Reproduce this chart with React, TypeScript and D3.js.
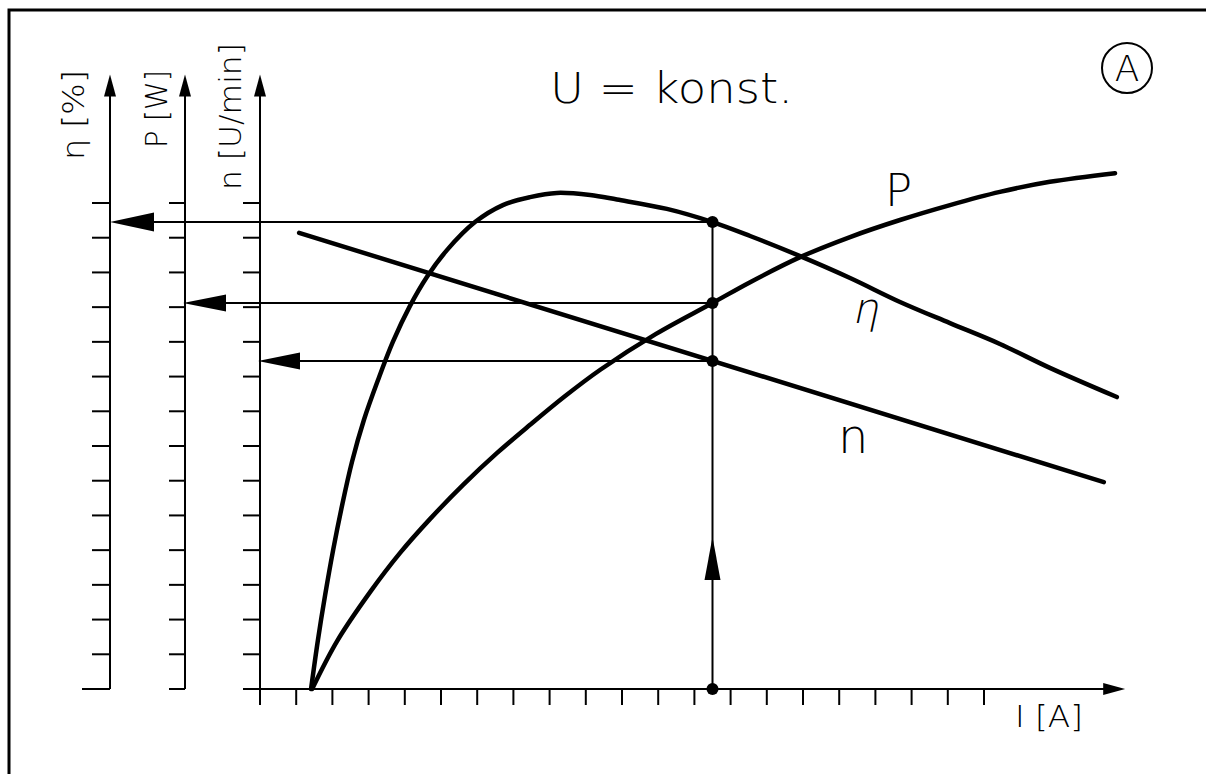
import React from 'react';
import * as d3 from 'd3';

// ---- data ----
const currentTicks = [0, 1, 2, 3, 4, 5, 6, 7, 8, 9, 10, 11, 12, 13, 14, 15, 16, 17, 18, 19, 20];
const valueTicks = [1, 2, 3, 4, 5, 6, 7, 8, 9, 10, 11, 12, 13, 14];

const etaCurrent = [1.41, 1.6, 1.8, 2.02, 2.27, 2.54, 2.87, 3.26, 3.67, 4.14, 4.61, 5.17, 5.94, 6.71, 7.46, 8.2, 9.12, 9.86, 11.24, 12.5, 13.54, 14.92, 16.3, 17.68, 19.06, 20.44, 21.82, 23.67];
const etaValue = [0, 1.41, 2.71, 4.0, 5.3, 6.54, 7.75, 8.9, 10.0, 11.03, 11.87, 12.65, 13.45, 13.94, 14.17, 14.29, 14.23, 14.1, 13.83, 13.45, 13.05, 12.47, 11.84, 11.15, 10.54, 9.94, 9.25, 8.41];

const powerCurrent = [1.44, 2.13, 3.04, 3.87, 4.7, 5.61, 6.55, 7.46, 8.43, 9.39, 10.94, 12.5, 13.54, 14.92, 16.3, 17.68, 19.06, 20.44, 21.82, 23.62];
const powerValue = [0, 1.38, 2.79, 3.92, 4.9, 5.88, 6.8, 7.61, 8.44, 9.19, 10.23, 11.12, 11.72, 12.44, 13.02, 13.51, 13.94, 14.32, 14.61, 14.86];

const speedCurrent = [1.08, 23.31];
const speedValue = [13.14, 5.96];

const operatingCurrent = 12.5;
const currentAxisEnd = 23.9;
const valueAxisEnd = 17.7;

const titleText = 'U = konst.';
const badgeText = 'A';
const axisLabels = ['η [%]', 'P [W]', 'n [U/min]'];
const currentLabel = 'I [A]';
const curveLabels = ['P', 'η', 'n'];

const FONT = '"DejaVu Sans", "Liberation Sans", sans-serif';

function valueAt(xs: number[], ys: number[], x0: number) {
  const i = xs.indexOf(x0);
  if (i >= 0) return ys[i];
  const interp = d3.scaleLinear().domain(xs).range(ys);
  return interp(x0);
}

export default function App() {
  const x = d3.scaleLinear().domain([0, 20]).range([260, 984]);
  const y = d3.scaleLinear().domain([0, 14]).range([689, 203]);

  const axesX = [110, 185, 260];
  const tickLen = [18, 16, 17];

  const toPts = (xs: number[], ys: number[]) => xs.map((v, i) => [v, ys[i]] as [number, number]);
  const curve = d3
    .line<[number, number]>()
    .x((d) => x(d[0]))
    .y((d) => y(d[1]))
    .curve(d3.curveCatmullRom.alpha(0.5));
  const straight = d3
    .line<[number, number]>()
    .x((d) => x(d[0]))
    .y((d) => y(d[1]));

  const etaOp = valueAt(etaCurrent, etaValue, operatingCurrent);
  const pOp = valueAt(powerCurrent, powerValue, operatingCurrent);
  const nOp = valueAt(speedCurrent, speedValue, operatingCurrent);
  const xo = x(operatingCurrent);
  const y0 = y(0);
  const yTop = y(valueAxisEnd);
  const xEnd = x(currentAxisEnd);

  const projections = [
    { v: etaOp, axis: 0, len: 44, half: 9.5 },
    { v: pOp, axis: 1, len: 43, half: 8.5 },
    { v: nOp, axis: 2, len: 42, half: 8.5 },
  ];

  return (
    <div style={{ position: 'absolute', left: 0, top: 0 }}>
      <svg width={1206} height={774} style={{ display: 'block', background: '#fff' }}>
        {/* frame */}
        <rect x={9} y={10} width={1400} height={1000} fill="none" stroke="#000" strokeWidth={3} />

        {/* vertical value axes */}
        {axesX.map((ax, k) => (
          <g key={'ax' + k}>
            <line x1={ax} x2={ax} y1={k === 2 ? y0 + 16 : y0} y2={yTop + 10} stroke="#000" strokeWidth={2} />
            <polygon points={`${ax},${yTop} ${ax - 6},${yTop + 22} ${ax + 6},${yTop + 22}`} fill="#000" />
            {valueTicks.map((t) => (
              <line key={t} x1={ax - tickLen[k]} x2={ax} y1={y(t)} y2={y(t)} stroke="#000" strokeWidth={2} />
            ))}
            <line x1={ax - (k === 0 ? 28 : tickLen[k])} x2={ax} y1={y0} y2={y0} stroke="#000" strokeWidth={2} />
          </g>
        ))}

        {/* current axis */}
        <line x1={axesX[2]} x2={xEnd - 10} y1={y0} y2={y0} stroke="#000" strokeWidth={2} />
        <polygon points={`${xEnd},${y0} ${xEnd - 22},${y0 - 6} ${xEnd - 22},${y0 + 6}`} fill="#000" />
        {currentTicks.slice(1).map((t) => (
          <line key={t} x1={x(t)} x2={x(t)} y1={y0} y2={y0 + 16} stroke="#000" strokeWidth={2} />
        ))}

        {/* axis labels (rotated) */}
        {[
          { tx: 84, ty: 160, len: 90 },
          { tx: 167, ty: 148, len: 78 },
          { tx: 241, ty: 190, len: 147 },
        ].map((p, k) => (
          <text
            key={'al' + k}
            transform={`translate(${p.tx},${p.ty}) rotate(-90)`}
            fontFamily={FONT}
            fontWeight={200}
            fontSize={30}
            textLength={p.len}
            lengthAdjust="spacingAndGlyphs"
          >
            {axisLabels[k]}
          </text>
        ))}

        <text x={1015} y={727} fontFamily={FONT} fontWeight={200} fontSize={30} textLength={68} lengthAdjust="spacingAndGlyphs">
          {currentLabel}
        </text>

        {/* title and badge */}
        <text x={550} y={103} fontFamily={FONT} fontWeight={200} fontSize={42} textLength={243} lengthAdjust="spacingAndGlyphs">
          {titleText}
        </text>
        <circle cx={1127} cy={68} r={25} fill="none" stroke="#000" strokeWidth={2} />
        <text x={1127} y={81} textAnchor="middle" fontFamily={FONT} fontWeight={200} fontSize={36}>
          {badgeText}
        </text>

        {/* projection lines */}
        <line x1={xo} x2={xo} y1={y0} y2={y(etaOp)} stroke="#000" strokeWidth={2} />
        <polygon points={`${xo},${537} ${xo - 8},${580} ${xo + 8},${580}`} fill="#000" />
        {projections.map((p, k) => {
          const py = y(p.v);
          const tip = axesX[p.axis] - (k === 0 ? 0 : 2);
          return (
            <g key={'pr' + k}>
              <line x1={tip + p.len} x2={xo} y1={py} y2={py} stroke="#000" strokeWidth={2} />
              <polygon points={`${tip},${py} ${tip + p.len},${py - p.half} ${tip + p.len},${py + p.half}`} fill="#000" />
            </g>
          );
        })}

        {/* curves */}
        <path d={straight(toPts(speedCurrent, speedValue)) || ''} fill="none" stroke="#000" strokeWidth={4.5} strokeLinecap="round" />
        <path d={curve(toPts(etaCurrent, etaValue)) || ''} fill="none" stroke="#000" strokeWidth={4.5} strokeLinecap="round" strokeLinejoin="round" />
        <path d={curve(toPts(powerCurrent, powerValue)) || ''} fill="none" stroke="#000" strokeWidth={4.5} strokeLinecap="round" strokeLinejoin="round" />

        {/* operating points */}
        {[etaOp, pOp, nOp, 0].map((v, k) => (
          <circle key={'op' + k} cx={xo} cy={y(v)} r={6} fill="#000" />
        ))}

        {/* curve labels */}
        <text x={885} y={206} fontFamily={FONT} fontWeight={200} fontSize={45}>
          {curveLabels[0]}
        </text>
        <text x={853} y={323} fontFamily={FONT} fontWeight={200} fontSize={42} transform="skewX(-12)" style={{ transformOrigin: '868px 318px', transformBox: 'view-box' }}>
          {curveLabels[1]}
        </text>
        <text x={838} y={453} fontFamily={FONT} fontWeight={200} fontSize={48}>
          {curveLabels[2]}
        </text>
      </svg>
    </div>
  );
}
